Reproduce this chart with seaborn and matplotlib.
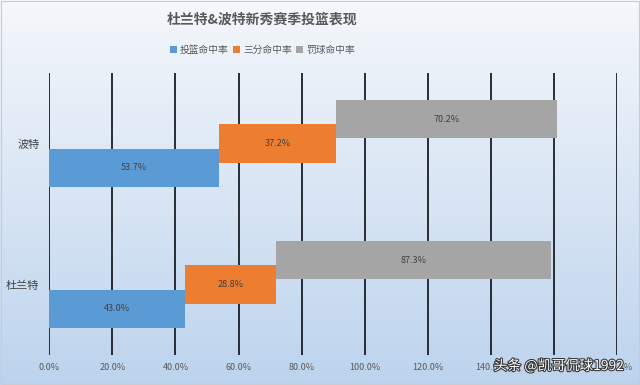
import numpy as np
import pandas as pd
import matplotlib
matplotlib.use('Agg')
import matplotlib.pyplot as plt
import matplotlib.patheffects as pe
from matplotlib.patches import Rectangle
import seaborn as sns

players = ['杜兰特', '波特']
series = ['投篮命中率', '三分命中率', '罚球命中率']
fg_pct = [43.0, 53.7]
three_pct = [28.8, 37.2]
ft_pct = [87.3, 70.2]
xticks = [0, 20, 40, 60, 80, 100, 120, 140, 160, 180]

colors = ['#5B9BD5', '#ED7D31', '#A5A5A5']

df = pd.DataFrame({'player': players, series[0]: fg_pct,
                   series[1]: three_pct, series[2]: ft_pct})

sns.set_theme(style='white')
plt.rcParams['font.family'] = ['Noto Sans CJK SC', 'DejaVu Sans']

fig = plt.figure(figsize=(6.4, 3.85), dpi=100)

# gradient background
bg = fig.add_axes([0, 0, 1, 1], zorder=-2)
top = np.array([0.96, 0.97, 0.985])
bot = np.array([0.74, 0.83, 0.93])
t = np.linspace(0, 1, 256)[:, None]
grad = top[None, :] * (1 - t) + bot[None, :] * t
bg.imshow(grad[:, None, :], aspect='auto', extent=[0, 1, 0, 1])
bg.axis('off')
fig.patches.append(Rectangle((0.001, 0.002), 0.997, 0.995, transform=fig.transFigure,
                             fill=False, edgecolor='#c8ccd2', linewidth=0.8))

ax = fig.add_axes([49.3 / 640, 1 - 355 / 385, (617 - 49.3) / 640, (355 - 73) / 385])
ax.set_facecolor('none')

ypos = np.arange(len(players))
h = 0.273
off = 0.172
left = np.zeros(len(players))
for i, s in enumerate(series):
    vals = df[s].values
    bars = ax.barh(ypos + (i - 1) * off, vals, left=left, height=h,
                   color=colors[i], linewidth=0, zorder=3, label=s)
    ax.bar_label(bars, labels=[f'{v:.1f}%' for v in vals], label_type='center',
                 fontsize=6.5, color='#404040')
    left = left + vals

ax.set_xlim(0, 180)
ax.set_ylim(-0.5, 1.5)
ax.set_xticks(xticks)
ax.set_xticklabels([f'{x:.1f}%' for x in xticks], fontsize=6.5, color='#595959')
ax.set_yticks(ypos)
ax.set_yticklabels(players, fontsize=8, color='#404040')
ax.tick_params(axis='both', length=0)
ax.tick_params(axis='y', pad=7)
ax.tick_params(axis='x', pad=6)
ax.xaxis.grid(True, color='#1a1f26', linewidth=1.3, zorder=0)
ax.set_axisbelow(True)
for sp in ax.spines.values():
    sp.set_visible(False)

fig.text(0.41, 1 - 20 / 385, '杜兰特&波特新秀赛季投篮表现', ha='center', va='center',
         fontsize=10, fontweight='bold', color='#595959')
fig.legend(loc='center', bbox_to_anchor=(0.41, 1 - 50 / 385), ncol=3, frameon=False,
           fontsize=7, labelcolor='#595959', handlelength=0.7, handleheight=0.7,
           handletextpad=0.3, columnspacing=0.5)

fig.text(0.975, 1 - 366 / 385, '头条 @凯哥侃球1992', ha='right', va='center',
         fontsize=10, color='white',
         path_effects=[pe.withStroke(linewidth=1.5, foreground='#333333')])

fig.savefig('out.png', dpi=100)
